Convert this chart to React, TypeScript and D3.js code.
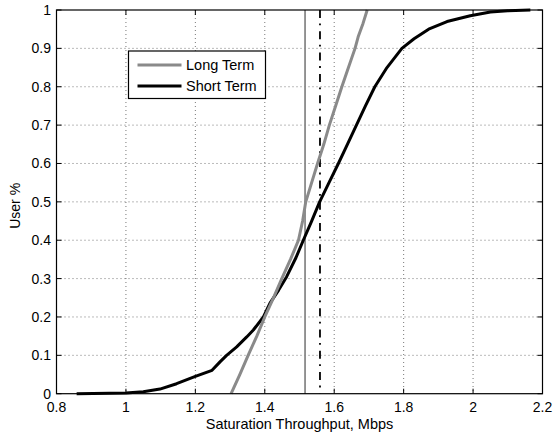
import React from "react";
import * as d3 from "d3";

const xTicks = [0.8, 1.0, 1.2, 1.4, 1.6, 1.8, 2.0, 2.2];
const xTickLabels = ["0.8", "1", "1.2", "1.4", "1.6", "1.8", "2", "2.2"];
const yTicks = [0, 0.1, 0.2, 0.3, 0.4, 0.5, 0.6, 0.7, 0.8, 0.9, 1.0];
const yTickLabels = ["0", "0.1", "0.2", "0.3", "0.4", "0.5", "0.6", "0.7", "0.8", "0.9", "1"];

const longTermX = [1.303, 1.328, 1.352, 1.377, 1.400, 1.425, 1.449, 1.474, 1.497, 1.509, 1.518, 1.535, 1.552, 1.570, 1.586, 1.604, 1.622, 1.641, 1.660, 1.669, 1.683, 1.695];
const longTermY = [0, 0.05, 0.1, 0.15, 0.2, 0.25, 0.3, 0.35, 0.4, 0.45, 0.5, 0.55, 0.6, 0.65, 0.7, 0.75, 0.8, 0.85, 0.9, 0.93, 0.965, 1.0];

const shortTermX = [0.858, 1.0, 1.05, 1.098, 1.146, 1.2, 1.248, 1.271, 1.29, 1.319, 1.348, 1.367, 1.396, 1.415, 1.44, 1.463, 1.49, 1.511, 1.535, 1.558, 1.585, 1.612, 1.638, 1.664, 1.69, 1.717, 1.752, 1.795, 1.83, 1.872, 1.925, 1.992, 2.05, 2.1, 2.165];
const shortTermY = [0, 0.002, 0.005, 0.012, 0.026, 0.045, 0.061, 0.083, 0.1, 0.122, 0.148, 0.166, 0.2, 0.236, 0.27, 0.305, 0.355, 0.4, 0.45, 0.5, 0.55, 0.6, 0.65, 0.7, 0.75, 0.8, 0.85, 0.9, 0.925, 0.95, 0.97, 0.985, 0.995, 0.998, 1.0];

const longTermMedian = 1.516;
const shortTermMedian = 1.559;

const legendLabels = ["Long Term", "Short Term"];
const seriesColors = ["#8a8a8a", "#000000"];

const W = 554;
const H = 437;
const left = 56.5;
const right = 542.5;
const top = 10;
const bottom = 393.7;
const FONT = "'Liberation Sans', Arial, Helvetica, sans-serif";

export default function App() {
  const x = d3.scaleLinear().domain([0.8, 2.2]).range([left, right]);
  const y = d3.scaleLinear().domain([0, 1]).range([bottom, top]);
  const line = d3
    .line<[number, number]>()
    .x((d) => x(d[0]))
    .y((d) => y(d[1]));
  const longPts = longTermX.map((v, i) => [v, longTermY[i]] as [number, number]);
  const shortPts = shortTermX.map((v, i) => [v, shortTermY[i]] as [number, number]);
  const tickLen = 5;

  return (
    <svg
      width={W}
      height={H}
      style={{ position: "absolute", left: 0, top: 0, background: "#fff" }}
      fontFamily={FONT}
    >
      <rect x={0} y={0} width={W} height={H} fill="#fff" />
      {/* grid */}
      {xTicks.slice(1, -1).map((t) => (
        <line key={"gx" + t} x1={x(t)} x2={x(t)} y1={top} y2={bottom} stroke="#555" strokeWidth={0.8} strokeDasharray="1,3" />
      ))}
      {yTicks.slice(1, -1).map((t) => (
        <line key={"gy" + t} x1={left} x2={right} y1={y(t)} y2={y(t)} stroke="#555" strokeWidth={0.8} strokeDasharray="1,3" />
      ))}
      {/* ticks */}
      {xTicks.map((t) => (
        <g key={"tx" + t}>
          <line x1={x(t)} x2={x(t)} y1={bottom} y2={bottom - tickLen} stroke="#000" />
          <line x1={x(t)} x2={x(t)} y1={top} y2={top + tickLen} stroke="#000" />
        </g>
      ))}
      {yTicks.map((t) => (
        <g key={"ty" + t}>
          <line x1={left} x2={left + tickLen} y1={y(t)} y2={y(t)} stroke="#000" />
          <line x1={right} x2={right - tickLen} y1={y(t)} y2={y(t)} stroke="#000" />
        </g>
      ))}
      {/* median lines */}
      <line x1={x(longTermMedian)} x2={x(longTermMedian)} y1={top} y2={bottom} stroke={seriesColors[0]} strokeWidth={1.8} />
      <line x1={x(shortTermMedian)} x2={x(shortTermMedian)} y1={top} y2={bottom} stroke="#000" strokeWidth={1.8} strokeDasharray="8,5.5,1.8,6" />
      {/* curves */}
      <path d={line(shortPts) || ""} fill="none" stroke={seriesColors[1]} strokeWidth={3} strokeLinejoin="round" />
      <path d={line(longPts) || ""} fill="none" stroke={seriesColors[0]} strokeWidth={3} strokeLinejoin="round" />
      {/* frame */}
      <rect x={left} y={top} width={right - left} height={bottom - top} fill="none" stroke="#000" strokeWidth={1.2} />
      {/* tick labels */}
      {xTicks.map((t, i) => (
        <text key={"lx" + t} x={x(t)} y={411.5} fontSize={14} textAnchor="middle" fill="#000">
          {xTickLabels[i]}
        </text>
      ))}
      {yTicks.map((t, i) => (
        <text key={"ly" + t} x={51} y={y(t) + 5} fontSize={14} textAnchor="end" fill="#000">
          {yTickLabels[i]}
        </text>
      ))}
      {/* axis titles */}
      <text x={(left + right) / 2} y={429} fontSize={14.5} textAnchor="middle" fill="#000">
        Saturation Throughput, Mbps
      </text>
      <text transform={`translate(20,${(top + bottom) / 2 + 4}) rotate(-90)`} fontSize={14} textAnchor="middle" fill="#000">
        User %
      </text>
      {/* legend */}
      <rect x={128.5} y={51} width={137} height={47.5} fill="#fff" stroke="#000" strokeWidth={1.2} />
      {legendLabels.map((lab, i) => (
        <g key={lab}>
          <line x1={137.5} x2={181.5} y1={65 + i * 21} y2={65 + i * 21} stroke={seriesColors[i]} strokeWidth={3} />
          <text x={186} y={70 + i * 21} fontSize={14.5} fill="#000">
            {lab}
          </text>
        </g>
      ))}
    </svg>
  );
}
